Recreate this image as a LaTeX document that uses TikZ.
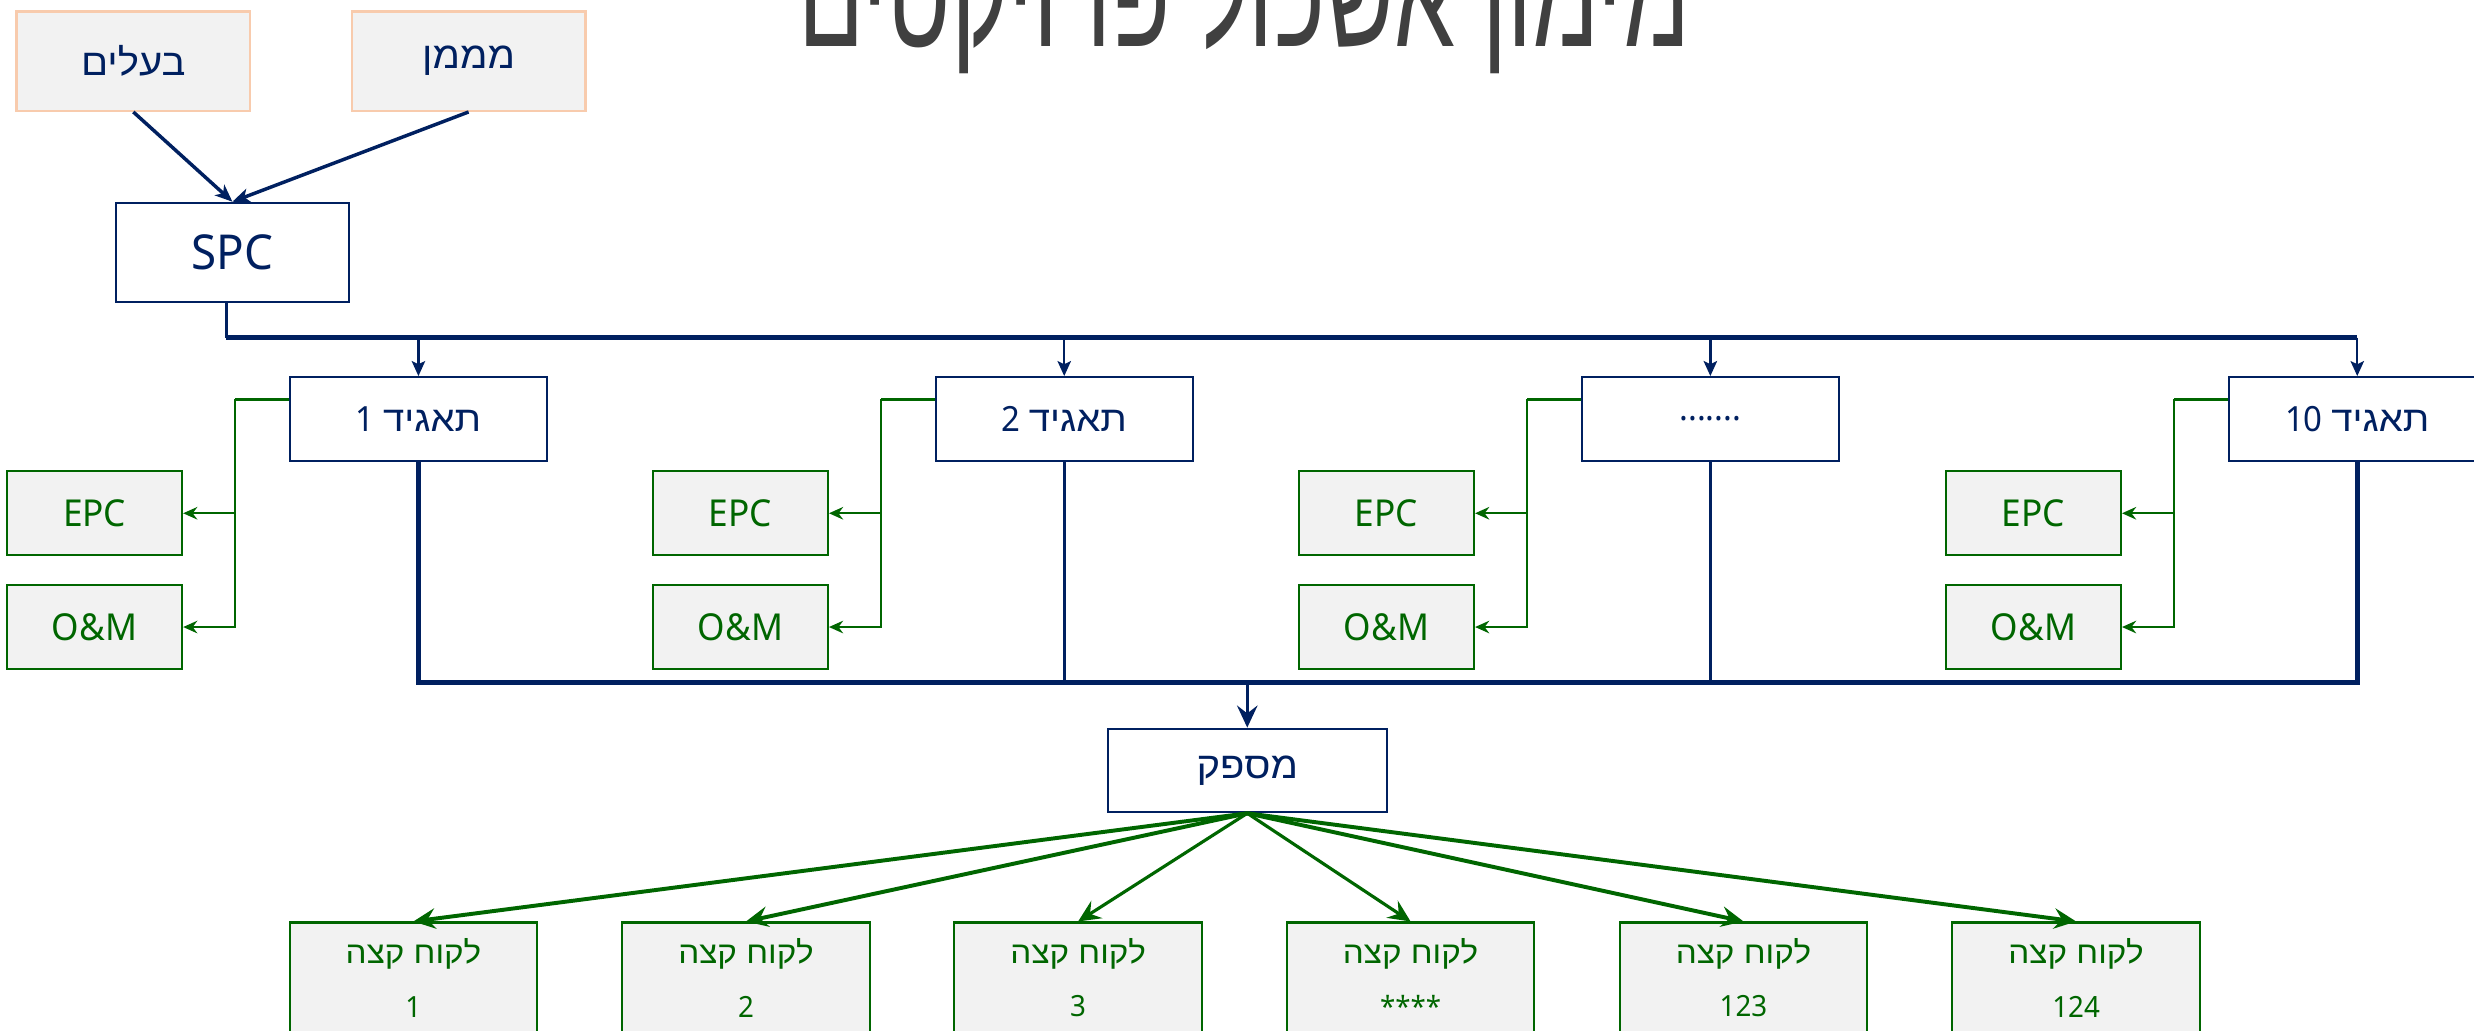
\documentclass[tikz,border=0pt]{standalone}
\usepackage{fontspec}
\setmainfont[FakeStretch=0.95]{Noto Sans}
\newfontfamily\heb[Script=Hebrew,FakeStretch=1.08]{Liberation Sans}
\newfontfamily\titlefont[Script=Hebrew,FakeStretch=0.67]{Liberation Sans}
\TeXXeTstate=1
\usetikzlibrary{arrows.meta}
\definecolor{navy}{HTML}{002060}
\definecolor{grn}{HTML}{006600}
\definecolor{boxgray}{HTML}{F2F2F2}
\definecolor{peach}{HTML}{F8CBAD}
\definecolor{titlegray}{HTML}{404040}
\newcommand{\hebt}[2]{{\heb\fontsize{#1}{#1}\selectfont #2}}
\tikzset{
  peachbox/.style={draw=peach, line width=1.5pt, fill=boxgray, minimum width=148pt, minimum height=63pt, inner sep=0pt, text=navy, font=\fontsize{23}{26}\selectfont},
  navybox/.style={draw=navy, line width=1.3pt, fill=white, minimum width=163pt, minimum height=53pt, inner sep=0pt, text=navy, font=\fontsize{22}{26}\selectfont},
  spcbox/.style={navybox, minimum width=148pt, minimum height=63pt, font=\fontsize{30.5}{34}\selectfont},
  supbox/.style={navybox, minimum width=177pt, minimum height=53pt, font=\fontsize{23}{26}\selectfont},
  greenbox/.style={draw=grn, line width=1.3pt, fill=boxgray, minimum width=111pt, minimum height=53pt, inner sep=0pt, text=grn, font=\fontsize{23.5}{26}\selectfont},
  custbox/.style={draw=grn, line width=1.3pt, fill=boxgray, minimum width=157pt, minimum height=70pt, inner sep=0pt, anchor=north, text=grn, align=center, font=\fontsize{18.5}{34}\selectfont},
  titletext/.style={text=titlegray, anchor=base, inner sep=0pt, font=\titlefont\fontsize{92}{100}\selectfont},
  navyarrow/.style={draw=navy, line width=2.2pt, -{Stealth[length=11pt,width=9pt,inset=3pt]}},
  navywire/.style={draw=navy, line width=1.6pt},
  buswire/.style={draw=navy, line width=3pt},
  droparrow/.style={draw=navy, line width=1.5pt, -{Stealth[length=9.5pt,width=8.5pt,inset=2pt]}},
  bigarrow/.style={draw=navy, line width=2pt, -{Stealth[length=14pt,width=13pt,inset=5pt]}},
  gstub/.style={draw=grn, line width=2pt},
  garrow/.style={draw=grn, line width=1.3pt, -{Stealth[length=9pt,width=8pt,inset=3pt]}},
  fanarrow/.style={draw=grn, line width=2.5pt, -{Stealth[length=14pt,width=13pt,inset=5pt]}},
  fanarrowthin/.style={fanarrow, line width=2pt},
}
\begin{document}
\begin{tikzpicture}[x=1pt,y=-1pt]
\useasboundingbox (0,0) rectangle (1568,653.4);
\clip (0,0) rectangle (1568,653.4);
\fill[white] (0,0) rectangle (1568,653.4);

% title
\node[titletext] (title) at (788.5,29.6) {\beginR מימון אשכול פרויקטים\endR};

% top boxes
\node[peachbox] (ba) at (84.5,38.7) {\beginR\hebt{23.5}{בעלים}\endR};
\node[peachbox] (mm) at (297,38.7) {\beginR\hebt{23.5}{מממן}\endR};
\node[spcbox] (spc) at (147.3,160) {SPC};

\draw[navyarrow] (ba.south) -- (spc.north);
\draw[navyarrow] (mm.south) -- (spc.north);

% level 2
\node[navybox] (t1) at (265.2,265.5) {\beginR\hebt{22.5}{תאגיד} 1\endR};
\node[navybox] (t2) at (674.5,265.5) {\beginR\hebt{22.5}{תאגיד} 2\endR};
\node[navybox] (t3) at (1084,265.5) {.......};
\node[navybox] (t4) at (1494,265.5) {\beginR\hebt{22.5}{תאגיד} \beginL10\endL\endR};

% bus
\coordinate (busL) at (143.5,214);
\coordinate (busR) at (1494,214);
\draw[navywire] (spc.south -| busL) -- (busL);
\draw[buswire] (busL) -- (busR);
\foreach \t in {t1,t2,t3,t4}{
  \draw[droparrow] (\t.north |- busL) -- (\t.north);
}

% EPC / O&M
\foreach \i in {1,2,3,4}{
  \node[greenbox] (epc\i) at ([xshift=-205.25pt,yshift=-59.8pt]t\i.center) {EPC};
  \node[greenbox] (om\i) at ([xshift=-205.25pt,yshift=-131.9pt]t\i.center) {O\&M};
  \coordinate (g\i) at ([xshift=-34pt,yshift=12.5pt]t\i.west);
  \draw[gstub] ([yshift=12.5pt]t\i.west) -- (g\i);
  \draw[garrow] (g\i) |- (epc\i.east);
  \draw[garrow] (g\i) |- (om\i.east);
}

% collection
\node[supbox] (sup) at (790.5,488.3) {\beginR\hebt{23.5}{מספק}\endR};
\coordinate (col) at (790.5,432.5);
\draw[buswire] (t1.south) -- (t1.south |- col) -- (t4.south |- col) -- (t4.south);
\draw[navywire] (t2.south) -- (t2.south |- col);
\draw[navywire] (t3.south) -- (t3.south |- col);
\draw[bigarrow] (col) -- (sup.north);

% customers
\node[custbox] (c1) at (262,584) {\beginR\hebt{19.5}{לקוח קצה}\endR\\1};
\node[custbox] (c2) at (472.8,584) {\beginR\hebt{19.5}{לקוח קצה}\endR\\2};
\node[custbox] (c3) at (683.3,584) {\beginR\hebt{19.5}{לקוח קצה}\endR\\3};
\node[custbox] (c4) at (894,584) {\beginR\hebt{19.5}{לקוח קצה}\endR\\****};
\node[custbox] (c5) at (1105,584) {\beginR\hebt{19.5}{לקוח קצה}\endR\\123};
\node[custbox] (c6) at (1315.8,584) {\beginR\hebt{19.5}{לקוח קצה}\endR\\124};

\draw[fanarrow] (sup.south) -- (c1.north);
\draw[fanarrow] (sup.south) -- (c2.north);
\draw[fanarrowthin] (sup.south) -- (c3.north);
\draw[fanarrowthin] (sup.south) -- (c4.north);
\draw[fanarrow] (sup.south) -- (c5.north);
\draw[fanarrow] (sup.south) -- (c6.north);
\end{tikzpicture}
\end{document}
